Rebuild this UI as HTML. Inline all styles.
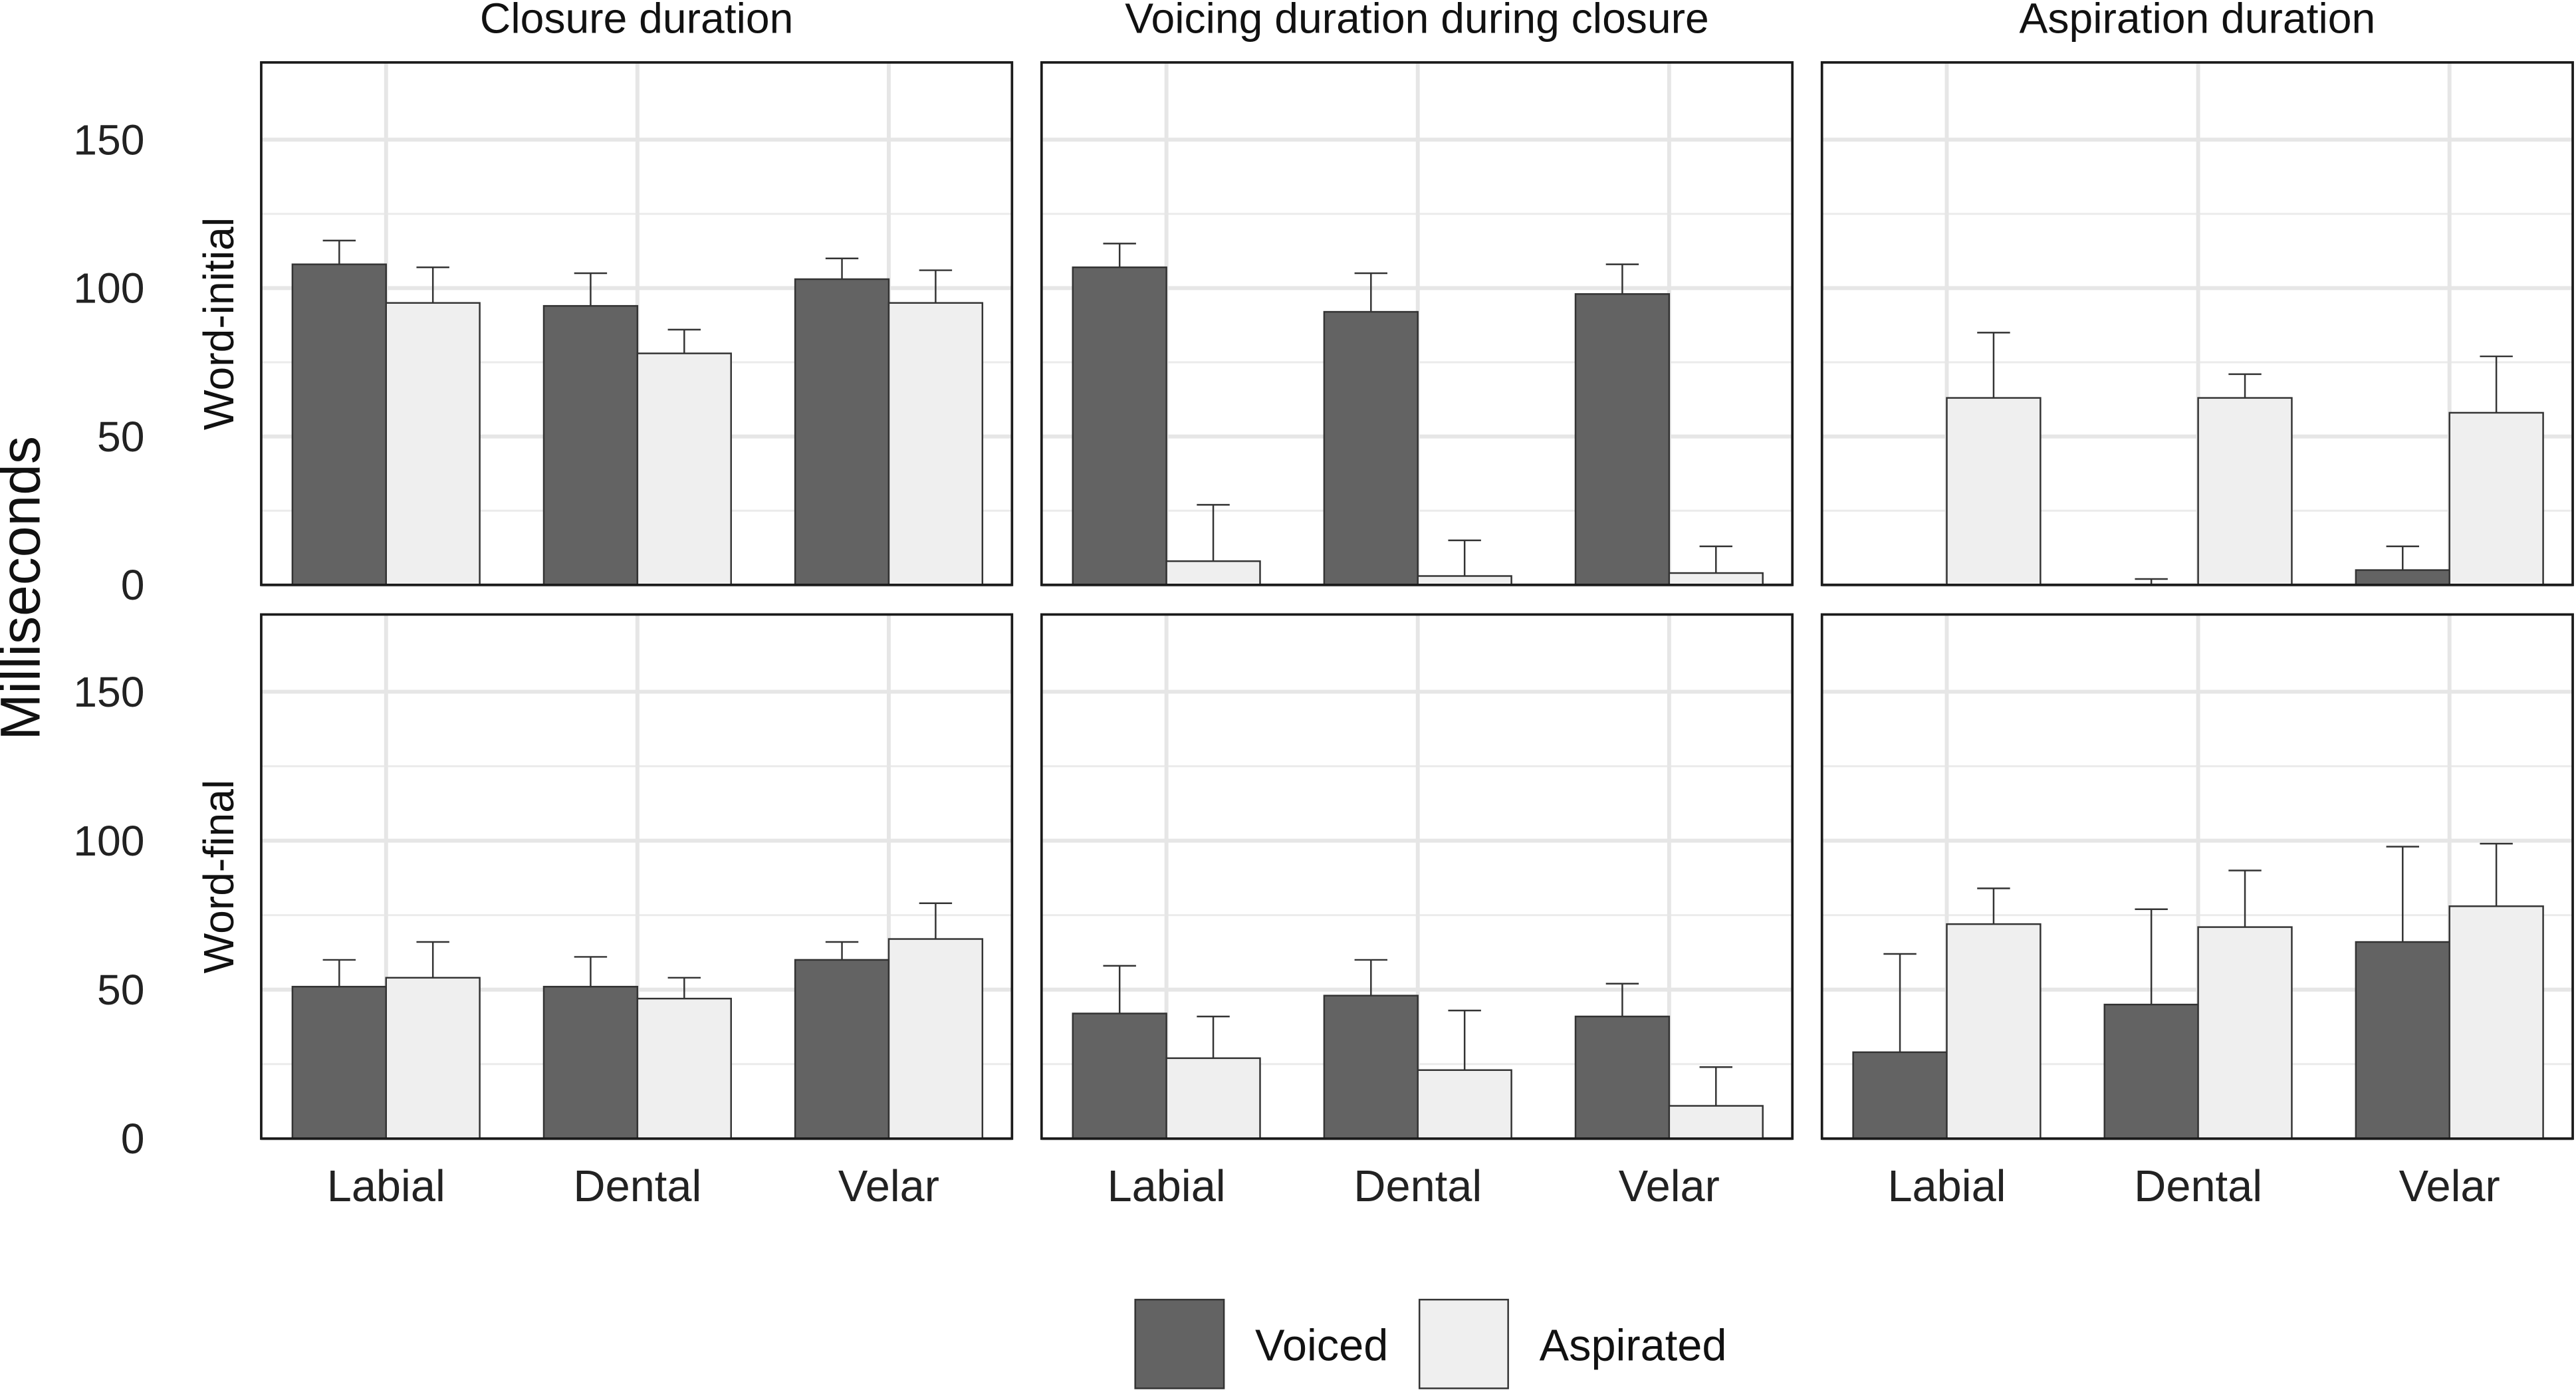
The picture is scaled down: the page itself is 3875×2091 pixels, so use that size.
<!DOCTYPE html>
<html><head><meta charset="utf-8"><style>
html,body{margin:0;padding:0;background:#fff;}
svg{display:block;font-family:"Liberation Sans",sans-serif;}
</style></head><body>
<svg id="chart" width="3875" height="2091" viewBox="0 0 1568 846" preserveAspectRatio="none" xmlns="http://www.w3.org/2000/svg"></svg>
<script>
const categories = ["Labial","Dental","Velar"];
const panelTitles = ["Closure duration","Voicing duration during closure","Aspiration duration"];
const rowLabels = ["Word-initial","Word-final"];
const yTicks = [0,50,100,150];
// [row][col] arrays per category
const voicedMean = [
  [[108,94,103],[107,92,98],[0,0,5]],
  [[51,51,60],[42,48,41],[29,45,66]]
];
const voicedErr = [
  [[116,105,110],[115,105,108],[0,2,13]],
  [[60,61,66],[58,60,52],[62,77,98]]
];
const aspMean = [
  [[95,78,95],[8,3,4],[63,63,58]],
  [[54,47,67],[27,23,11],[72,71,78]]
];
const aspErr = [
  [[107,86,106],[27,15,13],[85,71,77]],
  [[66,54,79],[41,43,24],[84,90,99]]
];

const NS="http://www.w3.org/2000/svg";
const svg=document.getElementById('chart');
function mk(tag,attrs,parent){const e=document.createElementNS(NS,tag);for(const k in attrs)e.setAttribute(k,attrs[k]);(parent||svg).appendChild(e);return e;}
const panelX=[159,634,1109], panelW=457;
const rowTop=[38,374], rowBottom=[356,693];
function yScale(r,v){const pxPer=(rowBottom[r]-(r?421:85))/150;return rowBottom[r]-v*pxPer;}
function xCenter(c,i){return panelX[c]+76+i*153;}
const barW=57;

for(let r=0;r<2;r++){
  for(let c=0;c<3;c++){
    const g=mk('g',{});
    
    
    const x0=panelX[c];
    [25,75,125].forEach(v=>{const y=yScale(r,v);mk('line',{x1:x0,x2:x0+panelW,y1:y,y2:y,stroke:'#ebebeb','stroke-width':1.2},g);});
    yTicks.forEach(v=>{const y=yScale(r,v);const l=mk('line',{x1:x0,x2:x0+panelW,y1:y,y2:y,stroke:'#e6e6e6','stroke-width':2.4},g);});
    categories.forEach((cat,i)=>{const x=xCenter(c,i);mk('line',{x1:x,x2:x,y1:rowTop[r],y2:rowBottom[r],stroke:'#e6e6e6','stroke-width':2.4},g);});
    categories.forEach((cat,i)=>{
      const x=xCenter(c,i);
      const series=[[voicedMean,voicedErr,'#636363','voiced',x-barW],[aspMean,aspErr,'#efefef','aspirated',x]];
      series.forEach(s=>{
        const m=s[0][r][c][i], e=s[1][r][c][i];
        const cx=s[4]+barW/2;
        const ye=yScale(r,e), ym=yScale(r,m);
        const el=mk('line',{x1:cx,x2:cx,y1:ye,y2:ym,stroke:'#333','stroke-width':1},g);
        
        mk('line',{x1:cx-10,x2:cx+10,y1:ye,y2:ye,stroke:'#333','stroke-width':1},g);
        const b=mk('rect',{x:s[4],y:ym,width:barW,height:Math.max(0,yScale(r,0)-ym),fill:s[2],stroke:'#333','stroke-width':1},g);
        
        
      });
    });
    mk('rect',{x:x0,y:rowTop[r],width:panelW,height:rowBottom[r]-rowTop[r],fill:'none',stroke:'#1a1a1a','stroke-width':1.5},g);
  }
  yTicks.forEach(v=>{const t=mk('text',{x:88,y:yScale(r,v)+9,'text-anchor':'end','font-size':26,fill:'#222'});t.textContent=v;});
  const cy=(rowTop[r]+rowBottom[r])/2;
  const rl=mk('text',{x:0,y:0,transform:`translate(142,${cy}) rotate(-90)`,'text-anchor':'middle','font-size':26,fill:'#111'});
  rl.textContent=rowLabels[r];
}
panelTitles.forEach((t,c)=>{const e=mk('text',{x:panelX[c]+panelW/2,y:20,'text-anchor':'middle','font-size':26,fill:'#111'});e.textContent=t;});
for(let c=0;c<3;c++)categories.forEach((cat,i)=>{const e=mk('text',{x:xCenter(c,i),y:731,'text-anchor':'middle','font-size':27,fill:'#222'});e.textContent=cat;});
const yt=mk('text',{x:0,y:0,transform:'translate(24,358) rotate(-90)','text-anchor':'middle','font-size':34,fill:'#111'});
yt.textContent='Milliseconds';
[[691,'#636363','Voiced',764],[864,'#efefef','Aspirated',937]].forEach(l=>{
  const r=mk('rect',{x:l[0],y:791,width:54,height:54,fill:l[1],stroke:'#333','stroke-width':1});
  
  const t=mk('text',{x:l[3],y:828,'font-size':27,fill:'#111'});t.textContent=l[2];
  
});
</script>
</body></html>
